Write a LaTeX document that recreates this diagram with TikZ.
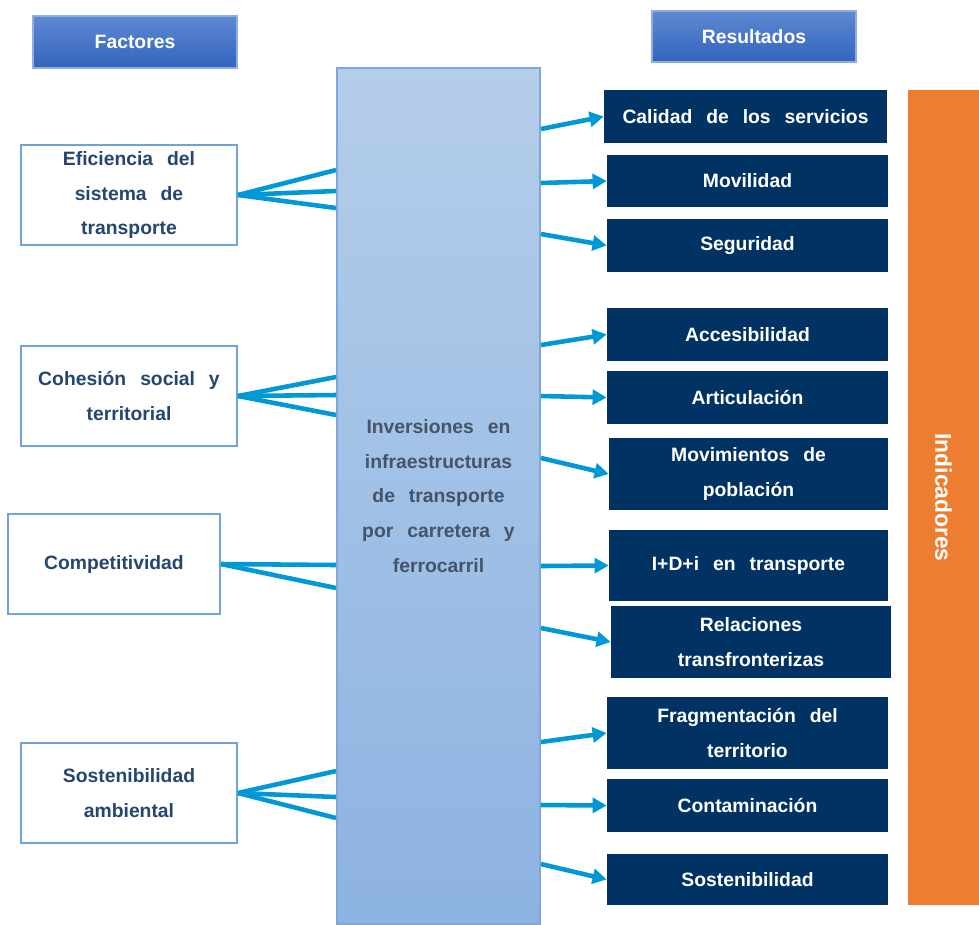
\documentclass[tikz,border=0pt]{standalone}
\usepackage{fontspec}
\setmainfont{Liberation Sans}[WordSpace=2.6]
\usetikzlibrary{arrows.meta}

\definecolor{titleTop}{HTML}{5E8AD3}
\definecolor{titleBot}{HTML}{3363BC}
\definecolor{titleLine}{HTML}{8EAEE0}
\definecolor{invTop}{HTML}{B4CDEA}
\definecolor{invBot}{HTML}{8DB3E1}
\definecolor{invLine}{HTML}{7EA8DA}
\definecolor{factLine}{HTML}{6FA3DA}
\definecolor{factText}{HTML}{24466F}
\definecolor{invText}{HTML}{44546A}
\definecolor{resFill}{HTML}{003264}
\definecolor{indFill}{HTML}{ED7D31}
\definecolor{linkCol}{HTML}{0099D5}

\tikzset{
  txt/.style = {font = \bfseries\fontsize{11}{19.8}\selectfont, align = center, inner sep = 0pt},
  titlebox/.style = {txt, text = white, draw = titleLine, line width = 1pt, top color = titleTop, bottom color = titleBot, minimum width = 204*0.02cm, minimum height = 52*0.02cm},
  factbox/.style = {txt, text = factText, draw = factLine, line width = 1.1pt, fill = white, minimum height = 100*0.02cm},
  resbox/.style = {txt, text = white, fill = resFill},
  linkline/.style = {draw = linkCol, line width = 2.6pt},
}

\begin{document}
\begin{tikzpicture}[>={Triangle[length = 8pt, width = 8.5pt]}, x = 0.02cm, y = -0.02cm]
    \useasboundingbox (0, 0) rectangle (979, 924);

    %%%%%%%%%% headers %%%%%%%%%%%%%%%%%%%
    \node [titlebox] (fact) at (135, 42) {Factores};
    \node [titlebox, minimum height = 51*0.02cm] (resul) at (754, 36.5) {Resultados};

    %%%%%%%%%% central block %%%%%%%%%%%%%%%%%%%
    \node [txt, text = invText, draw = invLine, line width = 1.1pt, top color = invTop, bottom color = invBot,
           minimum width = 203*0.02cm, minimum height = 856*0.02cm] (inv) at (438.5, 496)
          {Inversiones en\\infraestructuras\\de transporte\\por carretera y\\ferrocarril};

    %%%%%%%%%% factors %%%%%%%%%%%%%%%%%%%
    \node [factbox, minimum width = 216*0.02cm] (efic) at (129, 195) {Eficiencia del\\sistema de\\transporte};
    \node [factbox, minimum width = 216*0.02cm] (cohe) at (129, 396) {Cohesión social y\\territorial};
    \node [factbox, minimum width = 212*0.02cm] (comp) at (114, 564) {Competitividad};
    \node [factbox, minimum width = 216*0.02cm] (sost) at (129, 793) {Sostenibilidad\\ambiental};

    \foreach \y in {170, 191, 208} {\draw [linkline] (efic.east) -- (inv.west |- 0, \y);}
    \foreach \y in {377, 395, 415} {\draw [linkline] (cohe.east) -- (inv.west |- 0, \y);}
    \foreach \y in {565, 588} {\draw [linkline] (comp.east) -- (inv.west |- 0, \y);}
    \foreach \y in {771, 797, 818} {\draw [linkline] (sost.east) -- (inv.west |- 0, \y);}

    %%%%%%%%%% results %%%%%%%%%%%%%%%%%%%
    \foreach \n/\x/\y/\w/\h/\t in {1/745.5/116.5/283/53/Calidad de los servicios, 2/747.5/181/281/52/Movilidad,
        3/747.5/245.5/281/53/Seguridad, 4/747.5/334.5/281/53/Accesibilidad, 5/747.5/397.5/281/53/Articulación,
        6/748.5/474/279/72/Movimientos de\\población, 7/748.5/565.5/279/71/I+D+i en transporte,
        8/751/642/280/72/Relaciones\\transfronterizas, 9/747.5/733/281/72/Fragmentación del\\territorio,
        10/747.5/805.5/281/53/Contaminación, 11/747.5/879.5/281/51/Sostenibilidad} {
        \node [resbox, minimum width = \w*0.02cm, minimum height = \h*0.02cm] (r\n) at (\x, \y) {\t};
    }

    \foreach \n/\y in {1/129, 2/183, 3/234, 4/345, 5/396, 6/458, 7/566, 8/628, 9/742, 10/805, 11/864} {
        \draw [linkline, ->] (inv.east |- 0, \y) -- (r\n.west);
    }

    %%%%%%%%%% indicator bar %%%%%%%%%%%%%%%%%%%
    \node [txt, text = white, fill = indFill, font = \bfseries\fontsize{13}{16}\selectfont, rotate = -90,
           minimum width = 815*0.02cm, minimum height = 71*0.02cm] (ind) at (943.5, 497.5) {Indicadores};

\end{tikzpicture}
\end{document}
